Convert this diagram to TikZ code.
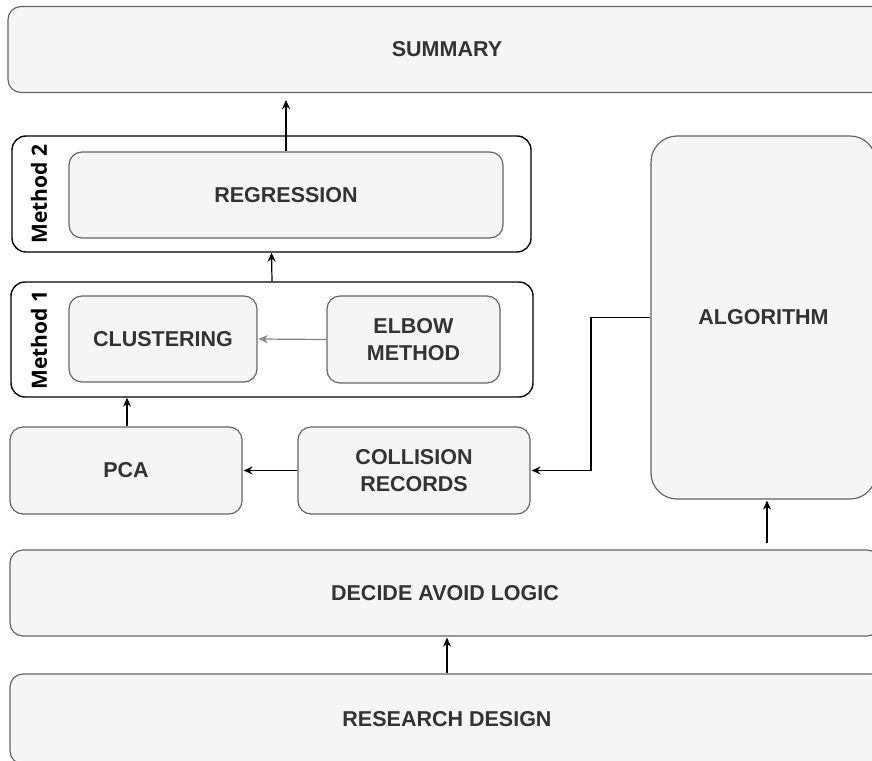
\documentclass[tikz,border=0pt]{standalone}
\usepackage{fontspec}
\setmainfont{Liberation Sans}
\newfontfamily\labelfont{Open Sans}
\usetikzlibrary{arrows.meta}
\definecolor{boxfill}{HTML}{F5F5F5}
\definecolor{boxline}{HTML}{666666}
\definecolor{boxtext}{HTML}{333333}
\begin{document}
\begin{tikzpicture}[x=1pt,y=-1pt,
  stepbox/.style={draw=boxline,fill=boxfill,line width=1.2pt,rounded corners=13pt,
    text=boxtext,font=\fontsize{21.5}{26.5}\selectfont\bfseries,align=center,
    inner sep=0pt,anchor=center},
  groupbox/.style={draw=black,fill=white,line width=1.4pt,rounded corners=14pt,
    inner sep=0pt,anchor=center},
  grouplabel/.style={rotate=90,font=\labelfont\fontsize{21}{24}\selectfont\bfseries,
    text=black,inner sep=0pt,anchor=center},
  arr/.style={draw=black,line width=1.2pt,-{Stealth[length=9pt,width=8pt]}},
  garr/.style={draw=gray,line width=1.2pt,-{Stealth[length=9pt,width=8pt,open]}}
]
\useasboundingbox (0,0) rectangle (872,760);
\clip (0,0) rectangle (872,760);

% top summary
\node[stepbox,minimum width=878pt,minimum height=86pt] (summary) at (447,49.5) {SUMMARY};

% method 2 group
\node[groupbox,minimum width=519pt,minimum height=116pt] (m2) at (271.5,194) {};
\node[grouplabel] (m2lab) at (39,194) {Method 2};
\node[stepbox,minimum width=434pt,minimum height=86pt] (regression) at (286,195) {REGRESSION};

% method 1 group
\node[groupbox,minimum width=522pt,minimum height=115pt] (m1) at (272,339.5) {};
\node[grouplabel] (m1lab) at (39,340) {Method 1};
\node[stepbox,minimum width=188pt,minimum height=86pt] (clustering) at (163,339) {CLUSTERING};
\node[stepbox,minimum width=173pt,minimum height=87pt] (elbow) at (413.5,339.5) {ELBOW\\METHOD};

% data preparation
\node[stepbox,minimum width=232pt,minimum height=87pt] (pca) at (126,470.5) {PCA};
\node[stepbox,minimum width=232pt,minimum height=87pt] (collision) at (414,470.5) {COLLISION\\RECORDS};

% algorithm column
\node[stepbox,rounded corners=26pt,minimum width=225pt,minimum height=363pt] (algorithm) at (763.5,317.5) {ALGORITHM};

% bottom rows
\node[stepbox,minimum width=870pt,minimum height=86pt] (decide) at (445,593) {DECIDE AVOID LOGIC};
\node[stepbox,minimum width=874pt,minimum height=90pt] (research) at (447,719) {RESEARCH DESIGN};

% connector columns
\coordinate (ax) at (767,0);
\coordinate (rx) at (447,0);
\coordinate (pcax) at (127,0);
\coordinate (bend) at (591,0);

% connectors
\draw[arr,shorten >=7pt] (regression.north) -- (regression.north |- summary.south);
\draw[arr] (m1.north) -- (m2.south);
\draw[arr] (pca.north -| pcax) -- (m1.south -| pcax);
\draw[garr,shorten >=1pt] (elbow.west) -- (clustering.east);
\draw[arr,shorten >=1pt] (collision.west) -- (pca.east);
\draw[draw=black,line width=1.2pt,-{Stealth[length=9pt,width=8pt]},shorten >=1pt]
  (algorithm.west) -- (algorithm.west -| bend) -- (collision.east -| bend) -- (collision.east);
\draw[arr,shorten <=6pt,shorten >=1pt] (decide.north -| ax) -- (algorithm.south -| ax);
\draw[arr,shorten >=1pt] (research.north -| rx) -- (decide.south -| rx);
\end{tikzpicture}
\end{document}
